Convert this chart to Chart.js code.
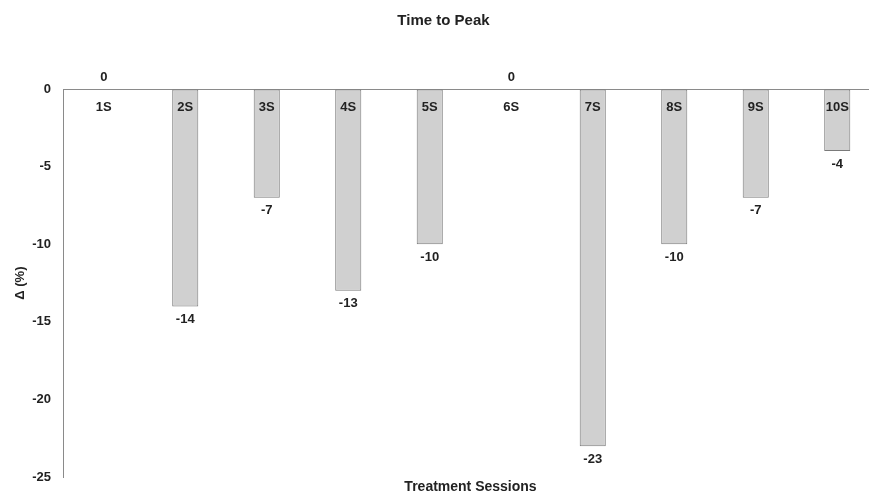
<!DOCTYPE html>
<html>
<head>
<meta charset="utf-8">
<script src="https://cdn.jsdelivr.net/npm/chart.js@4.4.0/dist/chart.umd.min.js"></script>
<style>
  html, body { margin: 0; padding: 0; background: #fff; overflow: hidden; }
  #wrap { width: 880px; height: 497px; }
</style>
</head>
<body>
<div id="wrap"><canvas id="barchart"></canvas></div>
<script>
const sessions = ["1S", "2S", "3S", "4S", "5S", "6S", "7S", "8S", "9S", "10S"];
const deltas = [0, -14, -7, -13, -10, 0, -23, -10, -7, -4];
const yTicks = [0, -5, -10, -15, -20, -25];

const FONT = "'Liberation Sans', Arial, sans-serif";

// category names under the zero line and value labels at the bar ends
const barLabels = {
  id: "barLabels",
  afterDatasetsDraw(chart) {
    const ctx = chart.ctx;
    const x = chart.scales.x;
    const y = chart.scales.y;
    const zero = y.getPixelForValue(0);
    ctx.save();
    ctx.font = "bold 13px " + FONT;
    ctx.fillStyle = "#222";
    ctx.textAlign = "center";
    ctx.textBaseline = "middle";
    sessions.forEach((s, i) => {
      const cx = x.getPixelForValue(i);
      ctx.fillText(s, cx, zero + 18);
      const v = deltas[i];
      if (v === 0) {
        ctx.fillText(String(v), cx, zero - 12);
      } else {
        ctx.fillText(String(v), cx, y.getPixelForValue(v) + 13);
      }
    });
    ctx.restore();
  },
};

new Chart(document.getElementById("barchart"), {
  type: "bar",
  data: {
    labels: sessions,
    datasets: [
      {
        data: deltas,
        backgroundColor: "#d0d0d0",
        borderColor: "#7a7a7a",
        borderWidth: 1,
        borderSkipped: false,
        barPercentage: 0.32,
        categoryPercentage: 1,
      },
    ],
  },
  options: {
    responsive: true,
    maintainAspectRatio: false,
    animation: false,
    layout: { padding: { left: 9, right: 2, top: 0, bottom: 0 } },
    plugins: {
      legend: { display: false },
      tooltip: { enabled: false },
      title: {
        display: true,
        text: "Time to Peak",
        color: "#222",
        font: { family: FONT, size: 15, weight: "bold" },
        padding: { top: 12, bottom: 59 },
      },
    },
    scales: {
      x: {
        grid: { display: false, drawTicks: false },
        border: { display: false },
        ticks: { display: false },
        title: {
          display: true,
          text: "Treatment Sessions",
          color: "#222",
          font: { family: FONT, size: 14, weight: "bold", lineHeight: 1 },
          padding: { top: 3, bottom: 0 },
        },
      },
      y: {
        min: -25,
        max: 0,
        afterBuildTicks: (s) => {
          s.ticks = yTicks.map((v) => ({ value: v }));
        },
        afterFit: (s) => {
          s.width = 54;
        },
        grid: {
          drawTicks: false,
          color: (c) => (c.tick && c.tick.value === 0 ? "#8a8a8a" : "rgba(0,0,0,0)"),
        },
        border: { display: true, color: "#8a8a8a" },
        ticks: {
          padding: 12,
          color: "#222",
          font: { family: FONT, size: 13, weight: "bold" },
        },
        title: {
          display: true,
          text: "Δ (%)",
          color: "#222",
          font: { family: FONT, size: 13, weight: "bold" },
          padding: { top: 4, bottom: 0 },
        },
      },
    },
  },
  plugins: [barLabels],
});
</script>
</body>
</html>
